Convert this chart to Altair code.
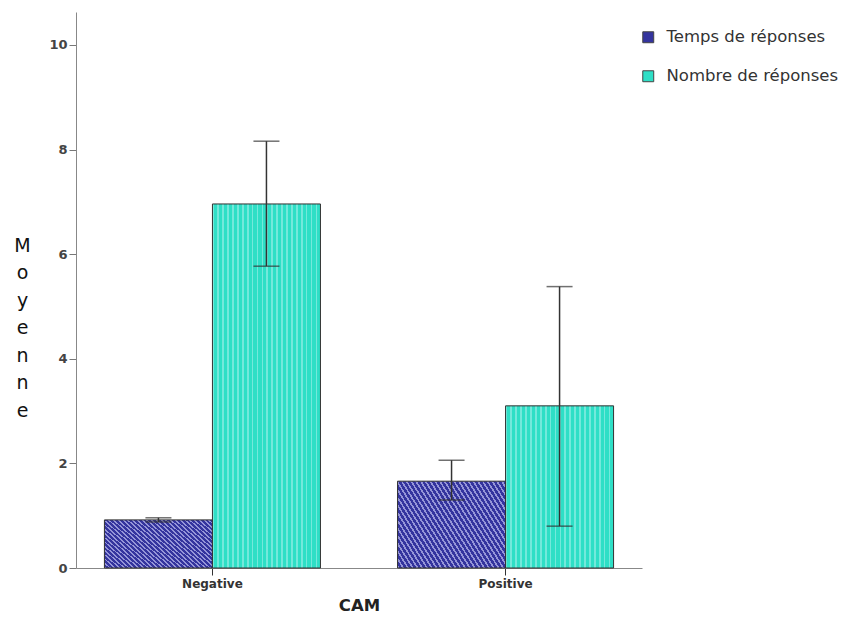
import altair as alt
import pandas as pd

categories = ["Negative", "Positive"]
series = ["Temps de réponses", "Nombre de réponses"]
means = {"Temps de réponses": [0.92, 1.66], "Nombre de réponses": [6.96, 3.10]}
lower = {"Temps de réponses": [0.88, 1.30], "Nombre de réponses": [5.77, 0.80]}
upper = {"Temps de réponses": [0.96, 2.06], "Nombre de réponses": [8.16, 5.38]}
y_ticks = [0, 2, 4, 6, 8, 10]
colors = ["#34349e", "#2edfc6"]

rows = []
for s in series:
    for i, c in enumerate(categories):
        rows.append({"CAM": c, "serie": s, "mean": means[s][i],
                     "lo": lower[s][i], "hi": upper[s][i]})
df = pd.DataFrame(rows)

FONT = "DejaVu Sans"


def stripes(n, line_color, frac, **coords):
    stops = []
    for k in range(n):
        a = k / n
        b = (k + frac) / n
        stops += [alt.GradientStop(offset=a, color=line_color),
                  alt.GradientStop(offset=b, color=line_color),
                  alt.GradientStop(offset=b, color="rgba(0,0,0,0)"),
                  alt.GradientStop(offset=(k + 1) / n, color="rgba(0,0,0,0)")]
    return alt.LinearGradient(gradient="linear", stops=stops, **coords)


hatch = stripes(34, "rgba(190,190,240,0.7)", 0.4, x1=0, y1=1, x2=1.2, y2=0.4)
dots = stripes(22, "rgba(200,245,245,0.45)", 0.35, x1=0, y1=0, x2=1, y2=0)

x = alt.X("CAM:N", sort=categories,
          scale=alt.Scale(paddingInner=0.263, paddingOuter=0.097),
          axis=alt.Axis(title="CAM", labelAngle=0, labelFontSize=12, labelColor="#333",
                        labelFontWeight="bold",
                        labelFont=FONT, titleFont=FONT, titleFontSize=16.5,
                        titleFontWeight="bold", titleColor="#222", titlePadding=8,
                        domainColor="#888", tickColor="#333", tickSize=7,
                        labelPadding=3))
xoff = alt.XOffset("serie:N", sort=series,
                   scale=alt.Scale(domain=series, paddingInner=0, paddingOuter=0))
yscale = alt.Scale(domain=[0, 10.63], nice=False)

bars = alt.Chart(df).mark_bar().encode(
    x=x,
    xOffset=xoff,
    y=alt.Y("mean:Q", scale=yscale,
            axis=alt.Axis(title=["M", "o", "y", "e", "n", "n", "e"], titleAngle=0,
                          titleX=-54, titleY=224, titleAlign="center", titleBaseline="top",
                          titleLineHeight=27.5, titleFontSize=19, titleFontWeight="normal",
                          titleFont=FONT, titleColor="#111",
                          values=y_ticks, grid=False, labelFontSize=13, labelColor="#444",
                          labelFontWeight="bold",
                          labelFont=FONT, domainColor="#888", tickColor="#777", tickSize=7,
                          labelPadding=2)),
    color=alt.Color("serie:N", sort=series,
                    scale=alt.Scale(domain=series, range=colors),
                    legend=alt.Legend(title=None, orient="none", legendX=564, legendY=17,
                                      symbolType="square", symbolSize=120,
                                      symbolStrokeColor="#444", symbolStrokeWidth=1,
                                      labelFontSize=16.5, labelFont=FONT, labelColor="#333",
                                      labelLimit=300,
                                      rowPadding=22, labelOffset=10)),
)

over_t = alt.Chart(df).transform_filter(alt.datum.serie == series[0]).mark_bar(
    fill=hatch, stroke="#333", strokeWidth=1).encode(x=x, xOffset=xoff, y=alt.Y("mean:Q", scale=yscale))
over_n = alt.Chart(df).transform_filter(alt.datum.serie == series[1]).mark_bar(
    fill=dots, stroke="#333", strokeWidth=1).encode(x=x, xOffset=xoff, y=alt.Y("mean:Q", scale=yscale))

rule = alt.Chart(df).mark_rule(color="#333", strokeWidth=1.5).encode(
    x=x, xOffset=xoff, y="lo:Q", y2="hi:Q")
cap_hi = alt.Chart(df).mark_tick(color="#333", size=26, thickness=1.5, orient="horizontal").encode(
    x=x, xOffset=xoff, y=alt.Y("hi:Q", scale=yscale))
cap_lo = alt.Chart(df).mark_tick(color="#333", size=26, thickness=1.5, orient="horizontal").encode(
    x=x, xOffset=xoff, y=alt.Y("lo:Q", scale=yscale))

chart = alt.layer(bars, over_t, over_n, rule, cap_hi, cap_lo).properties(
    width=566, height=556,
    background="white",
    autosize=alt.AutoSizeParams(type="none"),
    padding={"left": 68, "top": 4, "right": 196, "bottom": 47},
).configure_view(strokeWidth=0, stroke="transparent")

chart.save("out.html", embed_options={"renderer": "svg", "actions": False})
